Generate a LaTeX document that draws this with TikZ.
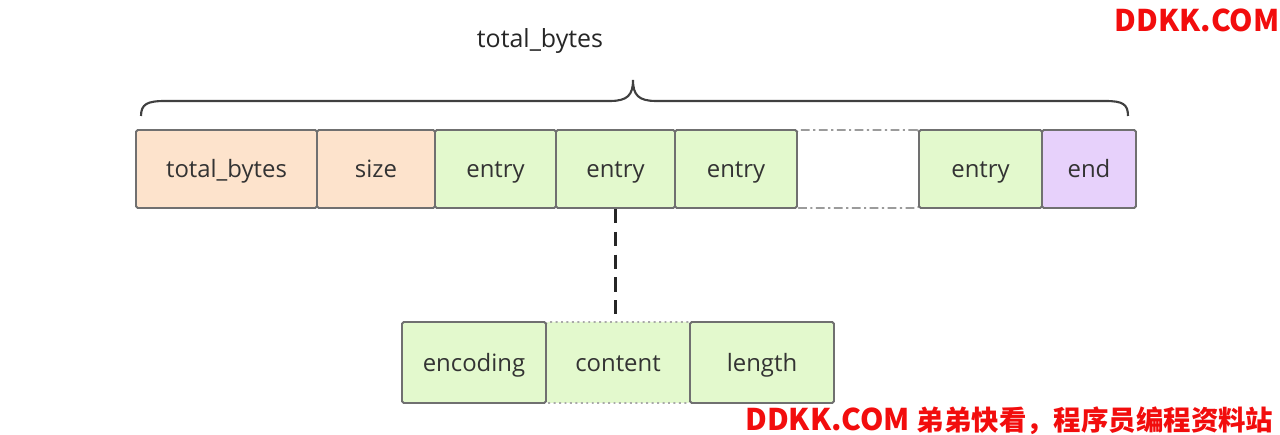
\documentclass[tikz,border=0pt]{standalone}
\usepackage{fontspec}
\setmainfont{Open Sans}
\newfontfamily\cjk{Noto Sans CJK SC}
\definecolor{cO}{HTML}{FDE3CC}
\definecolor{cG}{HTML}{E3F9CD}
\definecolor{cP}{HTML}{E7D1FB}
\definecolor{cL}{HTML}{707070}
\definecolor{cR}{HTML}{F20D0D}
\tikzstyle{bS}=[rectangle,minimum height = 1.56cm,inner sep = 0pt,draw=cL,line width=1.1pt,rounded corners=1pt, font=\fontsize{13.6}{15}\selectfont,text=black!80,text height=2.4ex,text depth=0.55ex]
\tikzstyle{bO}=[bS,fill=cO]
\tikzstyle{bG}=[bS,fill=cG]
\tikzstyle{bP}=[bS,fill=cP]
\tikzstyle{bD}=[bS,draw=cL!70,dash pattern=on 5pt off 2pt on 1.2pt off 2pt,line width=1pt]
\tikzstyle{bC}=[bS,minimum height = 1.62cm,draw=cL!60,dotted,line width=0.9pt,fill=cG]
\tikzstyle{wM}=[text=cR,font=\cjk\bfseries\fontsize{17}{19}\selectfont,inner sep=0pt]

\begin{document}
\begin{tikzpicture}
    \useasboundingbox[fill=white] (0,0) rectangle (25.6,8.7);
    \draw (17.16,5.32) node[bD,minimum width=2.44cm] (nGap) {};
    \draw (4.53,5.32) node[bO,minimum width=3.62cm] (nTotal) {total\_bytes};
    \draw (7.52,5.32) node[bO,minimum width=2.36cm] (nSize) {size};
    \draw (9.91,5.32) node[bG,minimum width=2.42cm] (nE1) {entry};
    \draw (12.31,5.32) node[bG,minimum width=2.38cm] (nE2) {entry};
    \draw (14.72,5.32) node[bG,minimum width=2.44cm] (nE3) {entry};
    \draw (19.61,5.32) node[bG,minimum width=2.46cm] (nE4) {entry};
    \draw (21.78,5.32) node[bP,minimum width=1.88cm] (nEnd) {end};
    \draw (12.36,1.45) node[bC,minimum width=2.88cm] (nCont) {content};
    \draw (9.48,1.45) node[bG,minimum height=1.62cm,minimum width=2.88cm] (nEnc) {encoding};
    \draw (15.24,1.45) node[bG,minimum height=1.62cm,minimum width=2.88cm] (nLen) {length};
    \draw (10.8,7.88) node[font=\fontsize{14.2}{16}\selectfont,text=black!85] (lTotal) {total\_bytes};
    % brace over the whole list
    \draw[line width=1.2pt,black!75] (2.82,6.38) .. controls (2.82,6.62) and (2.95,6.68) .. (3.3,6.68) -- (12.2,6.68)
        .. controls (12.55,6.68) and (12.66,6.8) .. (12.66,7.1)
        .. controls (12.66,6.8) and (12.77,6.68) .. (13.12,6.68) -- (22.1,6.68)
        .. controls (22.45,6.68) and (22.56,6.62) .. (22.56,6.38);
    \path
        (nE2.south) edge[line width=1.6pt,black!85,dash pattern=on 8pt off 5pt] (nE2.south |- nCont.north)
    ;
    \draw (23.94,8.3) node[wM] (wTop) {DDKK.COM};
    \draw (14.9,0.28) node[wM,anchor=west] (wBot) {DDKK.COM {\fontsize{15.6}{18}\selectfont 弟弟快看，程序员编程资料站}};
\end{tikzpicture}
\end{document}
